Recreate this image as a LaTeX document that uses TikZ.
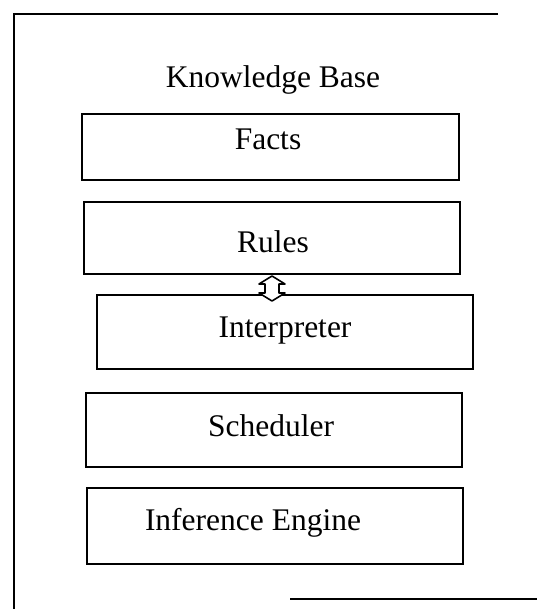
\documentclass[tikz,border=0pt]{standalone}
\usepackage{fontspec}
\setmainfont{Liberation Serif}
\begin{document}
\begin{tikzpicture}[x=1pt,y=-1pt,
  frame/.style={line width=1.8pt},
  box/.style={draw,line width=1.8pt,inner sep=0pt},
  lbl/.style={font=\fontsize{31.5}{36}\selectfont,inner sep=0pt,anchor=center}]
\useasboundingbox (0,0) rectangle (537,609);
% outer frame (open on the right)
\draw[frame] (498,14) -- (14,14) -- (14,609);
\draw[frame] (290,599) -- (537,599);
% heading
\node[lbl] (kb) at (273,80) {Knowledge Base};
% boxes
\draw[box] (82,114) rectangle (459,180);
\node[lbl] (facts) at (268,139) {Facts};
\draw[box] (84,202) rectangle (460,274);
\node[lbl] (rules) at (273,242) {Rules};
\draw[box] (97,295) rectangle (473,369);
\node[lbl] (interp) at (285,331) {Interpreter};
\draw[box] (86,393) rectangle (462,467);
\node[lbl] (sched) at (271,426) {Scheduler};
\draw[box] (87,488) rectangle (463,564);
\node[lbl] (infer) at (253,523) {Inference Engine};
% hollow two-way arrow between Rules and Interpreter
\coordinate (atop) at (272,276);
\coordinate (abot) at (272,301);
\filldraw[fill=white,line width=1.6pt,line join=round]
  (atop) -- ++(13,8) -- ++(-6,0) -- ++(0,9) -- ++(6,0) -- (abot)
  -- ++(-13,-8) -- ++(6,0) -- ++(0,-9) -- ++(-6,0) -- cycle;
\end{tikzpicture}
\end{document}
